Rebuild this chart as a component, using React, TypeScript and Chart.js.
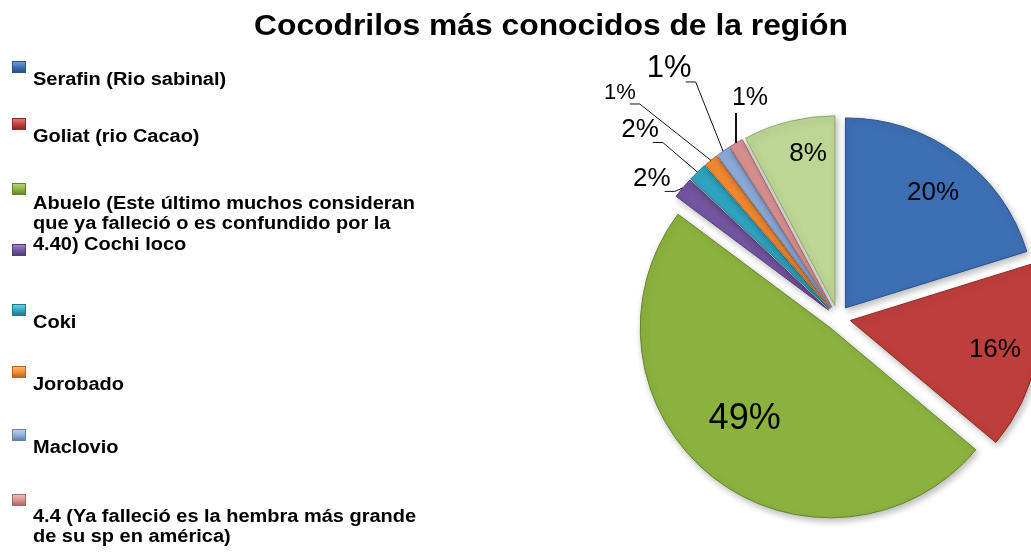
import React, { useEffect, useRef } from 'react';
import { Chart, registerables } from 'chart.js';

Chart.register(...registerables);

// ---------- data ----------
const TITLE = 'Cocodrilos más conocidos de la región';
const CATEGORIES = [
  'Serafin (Rio sabinal)',
  'Goliat (rio Cacao)',
  'Abuelo (Este último muchos consideran que ya falleció o es confundido por la 4.40)',
  'Cochi loco',
  'Coki',
  'Jorobado',
  'Maclovio',
  '4.4 (Ya falleció es la hembra más grande de su sp en américa)',
  '',
];
const SHARES = [20.2, 15.9, 49.1, 1.8, 1.6, 1.2, 1.2, 1.2, 7.8];

// ---------- styles ----------
const FILLS = ['#3D6FB4', '#BE3E3B', '#8BB23F', '#7455A0', '#2FA4C1', '#F28A31', '#8EABD9', '#D8908F', '#BDD694'];
const EDGES = ['#2B5288', '#8C2B29', '#66842C', '#533C77', '#1F7A91', '#B8641F', '#6882AC', '#A86A69', '#91A96C'];
const LIGHTS = ['#6E9BD8', '#E07572', '#B3D46E', '#9C82C4', '#6CCAE0', '#FBB472', '#BCD0EE', '#EDB9B8', '#DCEBBF'];

const FONT = '"Liberation Sans", Arial, Helvetica, sans-serif';
const EXPLODE = 12.5;

// label placement relative to each slice (angle offset in degrees, radius factor)
const LABEL_LAYOUT = [
  { dAngle: 0.5, rFactor: 0.769, size: 26, leader: '' },
  { dAngle: -0.6, rFactor: 0.775, size: 26, leader: '' },
  { dAngle: 5.8, rFactor: 0.647, size: 36, leader: '' },
  { dAngle: -3.0, rFactor: 1.163, size: 26, leader: 'elbow' },
  { dAngle: -2.4, rFactor: 1.378, size: 26, leader: 'elbow' },
  { dAngle: -5.2, rFactor: 1.591, size: 22, leader: 'elbow' },
  { dAngle: 0.8, rFactor: 1.531, size: 31, leader: 'elbow' },
  { dAngle: 9.1, rFactor: 1.192, size: 25, leader: 'vertical' },
  { dAngle: 4.1, rFactor: 0.823, size: 26, leader: '' },
];

// legend layout (text lines and markers)
const LEGEND_LINES = [
  { text: 'Serafin (Rio sabinal)', baseline: 85 },
  { text: 'Goliat (rio Cacao)', baseline: 142 },
  { text: 'Abuelo (Este último muchos consideran', baseline: 209 },
  { text: 'que ya falleció o es confundido por la', baseline: 229 },
  { text: '4.40) Cochi loco', baseline: 250 },
  { text: 'Coki', baseline: 328 },
  { text: 'Jorobado', baseline: 390 },
  { text: 'Maclovio', baseline: 453 },
  { text: '4.4 (Ya falleció es la hembra más grande', baseline: 522 },
  { text: 'de su sp en américa)', baseline: 542 },
];
const LEGEND_MARKERS = [
  { series: 0, top: 61 },
  { series: 1, top: 118 },
  { series: 2, top: 183 },
  { series: 3, top: 244 },
  { series: 4, top: 304 },
  { series: 5, top: 366 },
  { series: 6, top: 429 },
  { series: 7, top: 494 },
];

const explodePlugin = {
  id: 'explodeSlices',
  afterDatasetUpdate(chart: any, args: any) {
    args.meta.data.forEach((arc: any) => {
      const mid = (arc.startAngle + arc.endAngle) / 2;
      arc.x += Math.cos(mid) * EXPLODE;
      arc.y += Math.sin(mid) * EXPLODE;
    });
  },
};

const shadowPlugin = {
  id: 'sliceShadow',
  beforeDatasetsDraw(chart: any) {
    const ctx = chart.ctx;
    ctx.save();
    ctx.shadowColor = 'rgba(0,0,0,0.28)';
    ctx.shadowBlur = 7;
    ctx.shadowOffsetX = 2;
    ctx.shadowOffsetY = 3;
  },
  afterDatasetsDraw(chart: any) {
    chart.ctx.restore();
  },
};

const labelPlugin = {
  id: 'sliceLabels',
  afterDatasetsDraw(chart: any) {
    const ctx = chart.ctx;
    const meta = chart.getDatasetMeta(0);
    const total = SHARES.reduce((a, b) => a + b, 0);
    ctx.save();
    meta.data.forEach((arc: any, i: number) => {
      const { x, y, startAngle, endAngle, outerRadius } = arc.getProps(
        ['x', 'y', 'startAngle', 'endAngle', 'outerRadius'],
        true
      );
      const L = LABEL_LAYOUT[i];
      const mid = (startAngle + endAngle) / 2;
      const a = mid + (L.dAngle * Math.PI) / 180;
      const cx = x + Math.cos(a) * outerRadius * L.rFactor;
      const cy = y + Math.sin(a) * outerRadius * L.rFactor;
      const text = Math.round((SHARES[i] / total) * 100) + '%';
      ctx.font = `${L.size}px ${FONT}`;
      ctx.fillStyle = '#000';
      ctx.textAlign = 'center';
      ctx.textBaseline = 'alphabetic';
      const w = ctx.measureText(text).width;
      const base = cy + 0.358 * L.size;
      ctx.fillText(text, cx, base);
      if (L.leader) {
        const ex = x + Math.cos(mid) * outerRadius;
        const ey = y + Math.sin(mid) * outerRadius;
        ctx.strokeStyle = '#111';
        ctx.beginPath();
        if (L.leader === 'elbow') {
          ctx.lineWidth = 1;
          const right = cx + w / 2;
          const ly = base + 5;
          ctx.moveTo(right - 6, ly);
          ctx.lineTo(right + 4, ly);
          ctx.lineTo(ex, ey);
        } else {
          ctx.lineWidth = 2;
          ctx.moveTo(ex, ey);
          ctx.lineTo(ex, base + 8);
        }
        ctx.stroke();
      }
    });
    ctx.restore();
  },
};

export default function App() {
  const canvasRef = useRef<HTMLCanvasElement>(null);

  useEffect(() => {
    const canvas = canvasRef.current;
    if (!canvas) return;
    const chart = new Chart(canvas, {
      type: 'pie',
      data: {
        labels: CATEGORIES,
        datasets: [
          {
            data: SHARES,
            backgroundColor: FILLS,
            borderColor: EDGES,
            borderWidth: 1,
            hoverOffset: 0,
            offset: 0,
            clip: false as any,
          },
        ],
      },
      options: {
        responsive: false,
        animation: false,
        events: [],
        rotation: 0,
        layout: { padding: { left: 647.5, right: 2.5, top: 127.5, bottom: 45.5 } },
        plugins: {
          legend: { display: false },
          title: { display: false },
          tooltip: { enabled: false },
        },
      },
      plugins: [explodePlugin, shadowPlugin, labelPlugin],
    });
    return () => chart.destroy();
  }, []);

  return (
    <div
      style={{
        position: 'absolute',
        left: 0,
        top: 0,
        width: 1031,
        height: 554,
        background: '#fff',
        overflow: 'hidden',
        fontFamily: FONT,
        color: '#000',
      }}
    >
      <canvas
        ref={canvasRef}
        width={1031}
        height={554}
        style={{ position: 'absolute', left: 0, top: 0, width: 1031, height: 554 }}
      />
      <div
        style={{
          position: 'absolute',
          left: 151,
          top: 11,
          width: 800,
          textAlign: 'center',
          fontSize: 29,
          lineHeight: '29px',
          fontWeight: 'bold',
          whiteSpace: 'nowrap',
          transform: 'scaleX(1.097)',
          transformOrigin: '50% 50%',
        }}
      >
        {TITLE}
      </div>
      {LEGEND_MARKERS.map((m) => (
        <div
          key={'m' + m.series}
          style={{
            position: 'absolute',
            left: 12,
            top: m.top,
            width: 14,
            height: 12,
            boxSizing: 'border-box',
            border: `1px solid ${EDGES[m.series]}`,
            background: `linear-gradient(to bottom, ${LIGHTS[m.series]} 0%, ${FILLS[m.series]} 55%, ${EDGES[m.series]} 100%)`,
          }}
        />
      ))}
      {LEGEND_LINES.map((l, i) => (
        <div
          key={'l' + i}
          style={{
            position: 'absolute',
            left: 33,
            top: l.baseline - 15.2,
            fontSize: 18,
            lineHeight: '18px',
            fontWeight: 'bold',
            whiteSpace: 'nowrap',
            transform: 'scaleX(1.11)',
            transformOrigin: '0 50%',
          }}
        >
          {l.text}
        </div>
      ))}
    </div>
  );
}
